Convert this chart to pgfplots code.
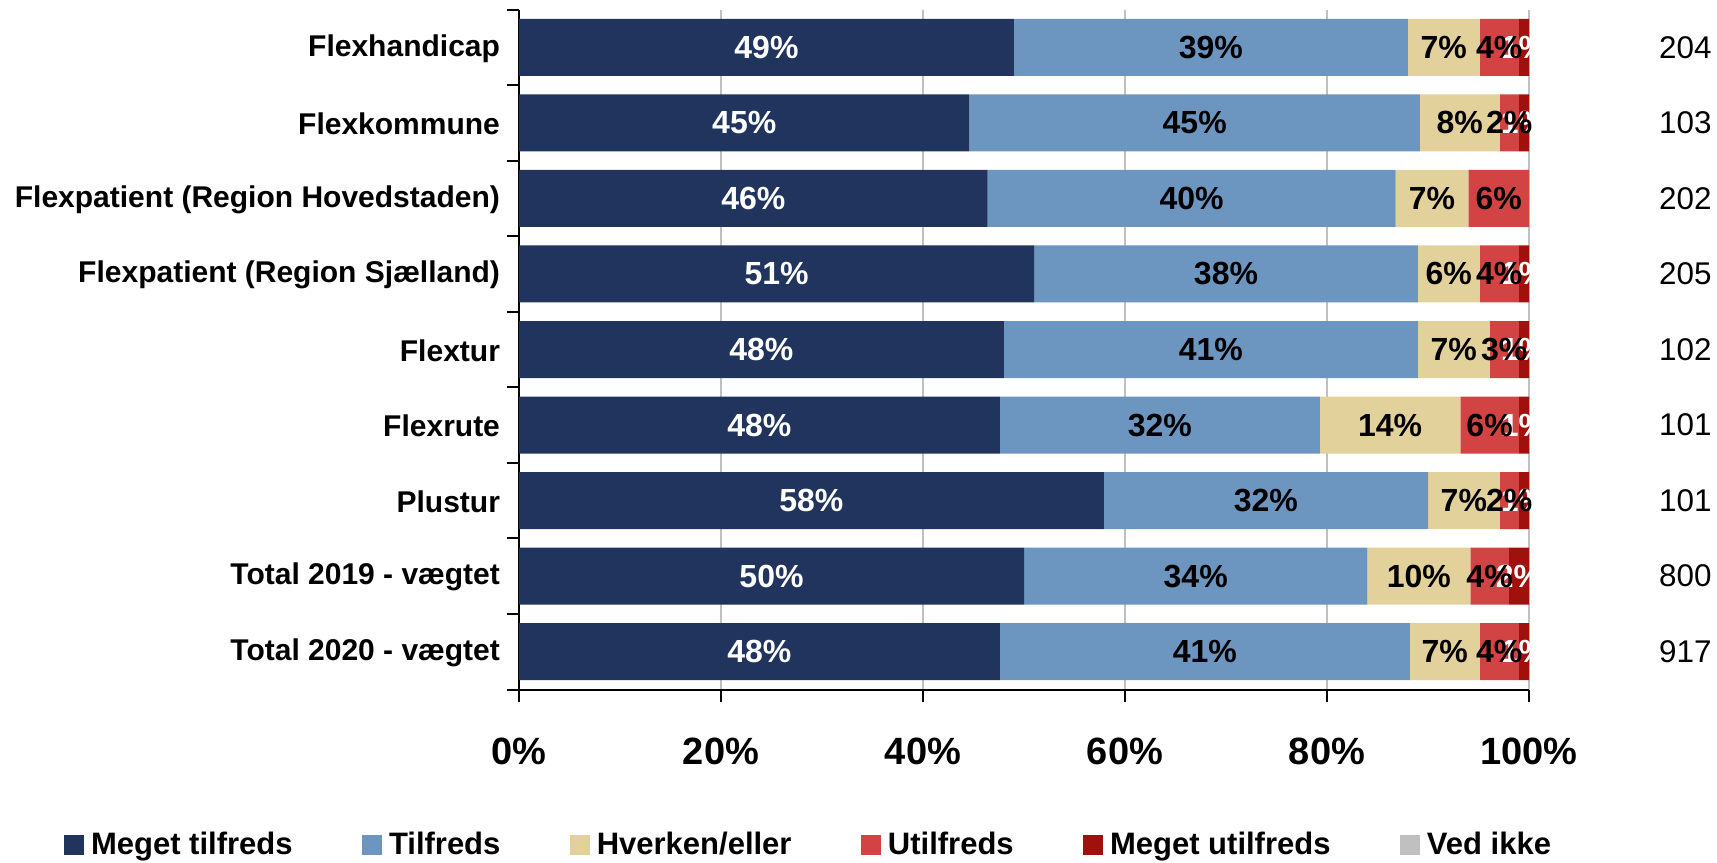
\documentclass[border=0pt]{standalone}
\usepackage{fontspec}
\setmainfont{Liberation Sans}
\usepackage{pgfplots}
\usepackage{pgfplotstable}
\pgfplotsset{compat=1.18}

\definecolor{cNavy}{HTML}{21345E}
\definecolor{cBlue}{HTML}{6C95C0}
\definecolor{cBeige}{HTML}{E3D19B}
\definecolor{cRed}{HTML}{D24344}
\definecolor{cDark}{HTML}{A0100C}
\definecolor{cGray}{HTML}{C0C0C0}

% r = row (0 = Flexhandicap), columns = answer shares in percent
\pgfplotstableread{
r  mt    t     hv    u    mu
0  49.0  39.0  7.1   3.9  1.0
1  44.6  44.6  7.9   1.9  1.0
2  46.4  40.4  7.2   6.0  0
3  51.0  38.0  6.1   3.9  1.0
4  48.0  41.0  7.1   2.9  1.0
5  47.6  31.7  13.9  5.8  1.0
6  57.9  32.1  7.1   1.9  1.0
7  50.0  34.0  10.2  3.8  2.0
8  47.6  40.6  6.9   3.9  1.0
}\svar

% stacked bars: with anchor=center the labels sit in the middle of each segment
\pgfplotsset{
  seg/.style={draw=none, fill=#1,
    nodes near coords={\pgfmathfloatifflags{\pgfplotspointmeta}{0}{}{\pgfmathprintnumber[fixed,precision=0,assume math mode=true]{\pgfplotspointmeta}\%}},
    every node near coord/.style={font=\bfseries\fontsize{16}{16}\selectfont, anchor=center}},
}

\begin{document}
\begin{tikzpicture}
\useasboundingbox (0,0) rectangle (858.5pt,431pt);
\begin{axis}[
  at={(259.5pt,86.25pt)}, anchor=south west,
  scale only axis, width=505pt, height=340pt,
  xbar stacked, bar width=28.5pt,
  xmin=0, xmax=100, ymin=-0.5, ymax=8.5, y dir=reverse,
  clip=false,
  axis x line*=bottom, axis y line*=left,
  axis line style={black, line width=1pt},
  tick align=outside, major tick length=6pt,
  tick style={black, line width=1pt},
  xtick={0,20,...,100},
  xticklabels={0\%,20\%,40\%,60\%,80\%,100\%},
  xticklabel style={font=\bfseries\fontsize{19}{19}\selectfont, yshift=-14.5pt},
  xmajorgrids, grid style={cGray, line width=0.8pt},
  ytick={-0.5,0.5,...,8.5},
  y tick label as interval,
  yticklabels={Flexhandicap,Flexkommune,Flexpatient (Region Hovedstaden),Flexpatient (Region Sjælland),Flextur,Flexrute,Plustur,Total 2019 - vægtet,Total 2020 - vægtet},
  yticklabel style={font=\bfseries\fontsize{15}{15}\selectfont, anchor=east, xshift=0pt, yshift=-0.5pt},
  legend columns=6,
  legend style={at={(-0.451,-0.228)}, anchor=west, draw=none, inner sep=0pt,
    font=\bfseries\fontsize{15.5}{16}\selectfont,
    /tikz/every odd column/.append style={column sep=1.6pt},
    /tikz/every even column/.append style={column sep=32.6pt}},
  legend image code/.code={\fill[#1] (0pt,-5pt) rectangle (10pt,5pt);},
]
\addplot[seg=cNavy, point meta=\thisrow{mt},
  every node near coord/.append style={text=white}] table[x=mt, y=r] {\svar};
\addlegendentry{Meget tilfreds}
\addplot[seg=cBlue, point meta=\thisrow{t}] table[x=t, y=r] {\svar};
\addlegendentry{Tilfreds}
\addplot[seg=cBeige, point meta=\thisrow{hv}] table[x=hv, y=r] {\svar};
\addlegendentry{Hverken/eller}
\addplot[seg=cRed, point meta=\thisrow{u}] table[x=u, y=r] {\svar};
\addlegendentry{Utilfreds}
\addplot[seg=cDark, point meta=\thisrow{mu},
  every node near coord/.append style={text=white}] table[x=mu, y=r] {\svar};
\addlegendentry{Meget utilfreds}
\addlegendimage{fill=cGray, draw=none}
\addlegendentry{Ved ikke}
% antal svar
\node[anchor=east, xshift=94.8pt, font=\fontsize{15.7}{16}\selectfont] at (axis cs:100,0) {204};
\node[anchor=east, xshift=94.8pt, font=\fontsize{15.7}{16}\selectfont] at (axis cs:100,1) {103};
\node[anchor=east, xshift=94.8pt, font=\fontsize{15.7}{16}\selectfont] at (axis cs:100,2) {202};
\node[anchor=east, xshift=94.8pt, font=\fontsize{15.7}{16}\selectfont] at (axis cs:100,3) {205};
\node[anchor=east, xshift=94.8pt, font=\fontsize{15.7}{16}\selectfont] at (axis cs:100,4) {102};
\node[anchor=east, xshift=94.8pt, font=\fontsize{15.7}{16}\selectfont] at (axis cs:100,5) {101};
\node[anchor=east, xshift=94.8pt, font=\fontsize{15.7}{16}\selectfont] at (axis cs:100,6) {101};
\node[anchor=east, xshift=94.8pt, font=\fontsize{15.7}{16}\selectfont] at (axis cs:100,7) {800};
\node[anchor=east, xshift=94.8pt, font=\fontsize{15.7}{16}\selectfont] at (axis cs:100,8) {917};
\end{axis}
\end{tikzpicture}
\end{document}
